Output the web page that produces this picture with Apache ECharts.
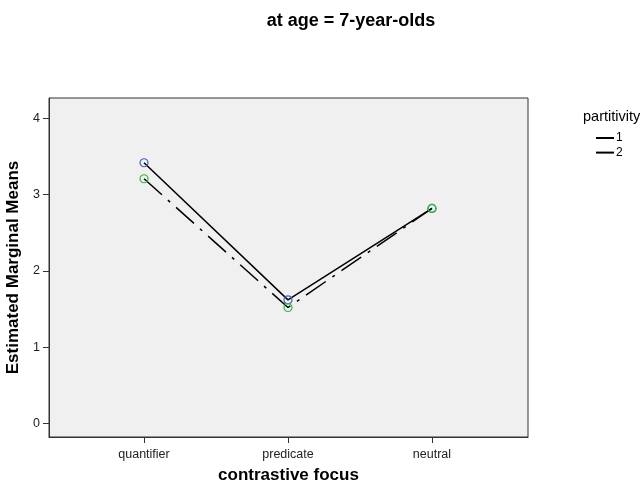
<!DOCTYPE html>
<html><head><meta charset="utf-8">
<script src="https://cdn.jsdelivr.net/npm/echarts@6/dist/echarts.min.js"></script>
<style>html,body{margin:0;padding:0;background:#fff}#c{width:642px;height:489px}</style>
</head><body><div id="c"></div>
<script>
const categories = ['quantifier', 'predicate', 'neutral'];
const series1 = [3.42, 1.62, 2.82];
const series2 = [3.21, 1.52, 2.82];
const yTicks = [0, 1, 2, 3, 4];
const seriesNames = ['1', '2'];

const chart = echarts.init(document.getElementById('c'));
const font = 'Liberation Sans, Arial, sans-serif';
chart.setOption({
  animation: false,
  backgroundColor: '#fff',
  title: [{
    text: 'at age = 7-year-olds', left: 346, top: 7, textAlign: 'center',
    textStyle: {fontFamily: font, fontSize: 18, fontWeight: 'bold', color: '#000'}
  }, {
    text: 'partitivity', left: 578, top: 104,
    textStyle: {fontFamily: font, fontSize: 14.5, fontWeight: 'normal', color: '#000'}
  }],
  legend: {
    orient: 'vertical', left: 591, top: 127, itemGap: 2.6,
    itemWidth: 18, itemHeight: 2,
    data: seriesNames.map(n => ({name: n, icon: 'rect'})),
    itemStyle: {color: '#000', borderWidth: 0},
    textStyle: {fontFamily: font, fontSize: 12, color: '#000', padding: [0, 0, 0, -3]}
  },
  grid: {left: 49, top: 98, width: 479, height: 339, show: true,
    outerBoundsMode: 'none', containLabel: false,
    backgroundColor: '#F0F0F0', borderColor: '#333', borderWidth: 1},
  xAxis: {
    type: 'value', min: -0.66, max: 2.667,
    name: 'contrastive focus', nameLocation: 'middle', nameGap: 30,
    nameTextStyle: {fontFamily: font, fontSize: 17, fontWeight: 'bold', color: '#000'},
    axisLine: {show: true, onZero: false, lineStyle: {color: '#333'}},
    axisTick: {show: true, customValues: [0, 1, 2], length: 6, lineStyle: {color: '#333'}},
    axisLabel: {customValues: [0, 1, 2], formatter: v => categories[Math.round(v)],
      fontFamily: font, fontSize: 12.5, color: '#222', margin: 11},
    splitLine: {show: false}
  },
  yAxis: {
    type: 'value', min: -0.18, max: 4.27,
    name: 'Estimated Marginal Means', nameLocation: 'middle', nameGap: 18,
    nameTextStyle: {fontFamily: font, fontSize: 17, fontWeight: 'bold', color: '#000'},
    axisLine: {show: true, onZero: false, lineStyle: {color: '#333'}},
    axisTick: {show: true, customValues: yTicks, length: 6, lineStyle: {color: '#333'}},
    axisLabel: {customValues: yTicks, fontFamily: font, fontSize: 12.5, color: '#222', margin: 9},
    splitLine: {show: false}
  },
  series: [{
    name: seriesNames[0], type: 'line', z: 2,
    data: series1.map((v, i) => [i, v]),
    symbol: 'circle', symbolSize: 8,
    itemStyle: {color: 'rgba(0,0,0,0)', borderColor: '#4B5FB8', borderWidth: 1.2},
    lineStyle: {color: '#000', width: 1.5, type: 'solid'}
  }, {
    name: seriesNames[1], type: 'line', z: 3,
    data: series2.map((v, i) => [i, v]),
    symbol: 'circle', symbolSize: 8,
    itemStyle: {color: 'rgba(0,0,0,0)', borderColor: '#3CB44A', borderWidth: 1.2},
    lineStyle: {color: '#000', width: 1.5, type: [24, 8, 3, 8]}
  }]
});
</script></body></html>
